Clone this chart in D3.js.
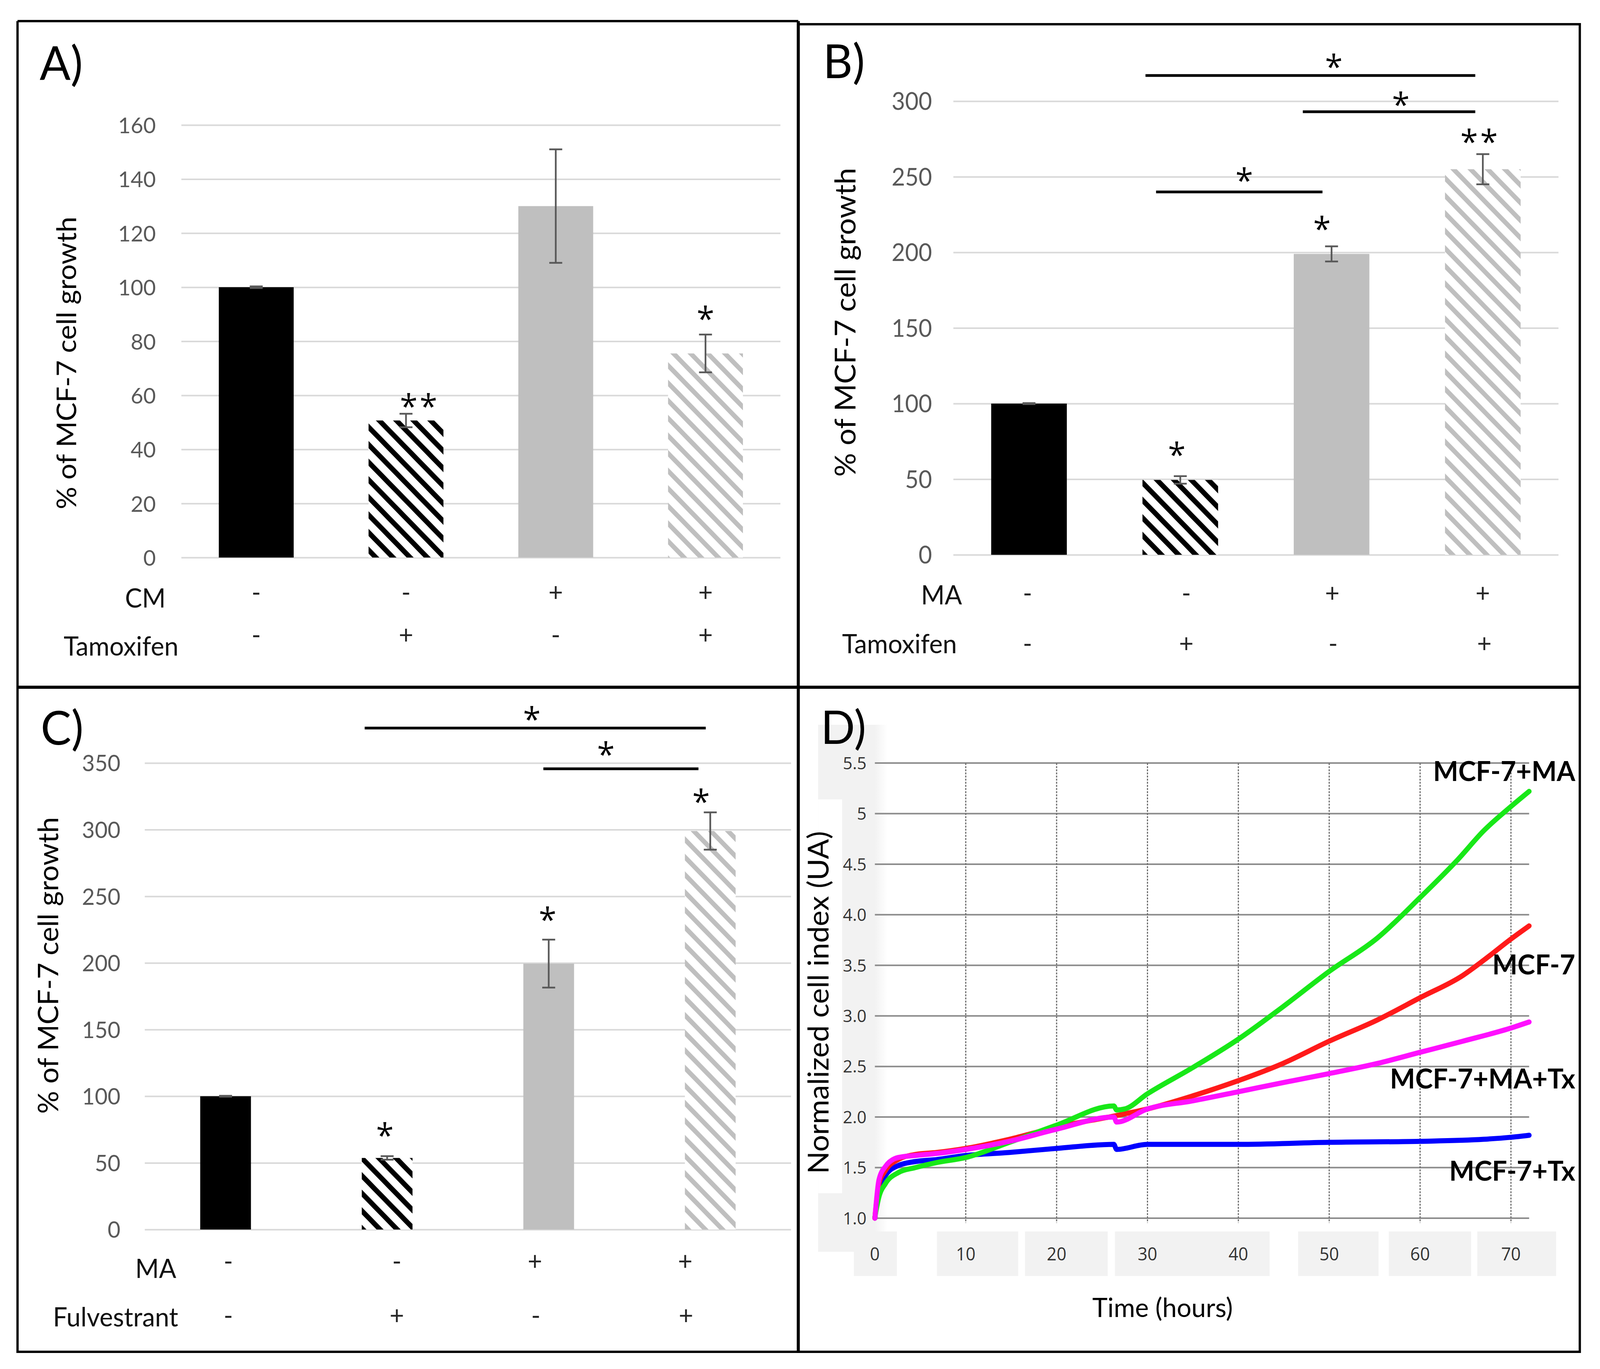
<!DOCTYPE html>
<html>
<head>
<meta charset="utf-8">
<script src="https://cdn.jsdelivr.net/npm/d3@7/dist/d3.min.js"></script>
<style>
  html, body { margin: 0; padding: 0; background: #fff; overflow: hidden; }
  svg { display: block; width: 100vw; height: 100vh; }
  svg text { font-family: Lato, "Open Sans", sans-serif; }
</style>
</head>
<body>
<svg id="fig" viewBox="0 0 4199 3504" preserveAspectRatio="none"></svg>
<script>
// ---- values ----
const groups = ["ctrl", "drug", "medium", "medium+drug"];

// A) conditioned medium +/- tamoxifen
const growthA = [100, 50.7, 130, 75.5];
const errorA = [0.3, 2.5, 21, 7];
const cmRow = ["-", "-", "+", "+"];
const tamoxifenRowA = ["-", "+", "-", "+"];
const ticksA = [0, 20, 40, 60, 80, 100, 120, 140, 160];

// B) MA +/- tamoxifen
const growthB = [100, 49.5, 199, 255];
const errorB = [0.3, 2.5, 5, 10];
const maRowB = ["-", "-", "+", "+"];
const tamoxifenRowB = ["-", "+", "-", "+"];
const ticksB = [0, 50, 100, 150, 200, 250, 300];

// C) MA +/- fulvestrant
const growthC = [100, 53.7, 199.5, 299];
const errorC = [0.3, 1.3, 18, 14];
const maRowC = ["-", "-", "+", "+"];
const fulvestrantRow = ["-", "+", "-", "+"];
const ticksC = [0, 50, 100, 150, 200, 250, 300, 350];

// significance marks: "at" in group units (0 = first bar), y in % units
const starsA = [{ at: 1.084, y: 58.7, n: 2 }, { at: 3, y: 91, n: 1 }];
const bracketsA = [];

const starsB = [
  { at: 0.977, y: 71, n: 1 }, { at: 1.937, y: 220.4, n: 1 }, { at: 2.975, y: 278, n: 2 },
  { at: 2.015, y: 327.6, n: 1 }, { at: 2.458, y: 302.6, n: 1 }, { at: 1.423, y: 252.5, n: 1 }
];
const bracketsB = [
  { from: 0.77, to: 2.95, y: 317 },
  { from: 1.81, to: 2.95, y: 293 },
  { from: 0.84, to: 1.94, y: 240 }
];

const starsC = [
  { at: 0.986, y: 76, n: 1 }, { at: 1.993, y: 238, n: 1 }, { at: 2.943, y: 326.4, n: 1 },
  { at: 1.896, y: 388.3, n: 1 }, { at: 2.354, y: 362, n: 1 }
];
const bracketsC = [
  { from: 0.861, to: 2.972, y: 376.2 },
  { from: 1.967, to: 2.927, y: 345.7 }
];

// D) real-time cell index (hours, normalized index)
const hoursMA = [0, 0.45, 1.15, 2.56, 4.45, 6.8, 10, 14.8, 20, 26.3, 26.6, 27.5, 30, 35, 40, 44.9, 50, 55.3, 60, 64.2, 67, 70, 72];
const indexMA = [1.01, 1.21, 1.34, 1.45, 1.50, 1.55, 1.60, 1.75, 1.92, 2.11, 2.07, 2.08, 2.23, 2.49, 2.77, 3.09, 3.44, 3.77, 4.17, 4.55, 4.83, 5.07, 5.22];

const hoursCtrl = [0, 0.45, 1.15, 2.56, 4.45, 6.8, 10, 14.8, 20, 26.3, 30, 35, 40, 44.9, 50, 55.3, 60, 64.7, 67, 70, 72];
const indexCtrl = [1.0, 1.34, 1.47, 1.58, 1.63, 1.65, 1.69, 1.78, 1.90, 2.01, 2.08, 2.21, 2.36, 2.53, 2.75, 2.96, 3.18, 3.40, 3.55, 3.76, 3.89];

const hoursMATx = [0, 0.45, 1.15, 2.56, 4.45, 6.8, 10, 14.8, 20, 26.3, 26.6, 30, 35, 40, 44.9, 50, 55.3, 60, 64.7, 70, 72];
const indexMATx = [1.0, 1.38, 1.51, 1.60, 1.62, 1.64, 1.68, 1.76, 1.88, 2.00, 1.95, 2.08, 2.16, 2.25, 2.34, 2.43, 2.53, 2.64, 2.75, 2.88, 2.94];

const hoursTx = [0, 0.45, 1.15, 2.56, 4.45, 6.8, 10, 14.8, 20, 26.3, 26.6, 30, 40, 50, 60, 67, 70, 72];
const indexTx = [1.0, 1.29, 1.42, 1.52, 1.56, 1.58, 1.62, 1.65, 1.69, 1.73, 1.68, 1.73, 1.73, 1.75, 1.76, 1.78, 1.80, 1.82];

const yTicksD = [1.0, 1.5, 2.0, 2.5, 3.0, 3.5, 4.0, 4.5, 5.0, 5.5];
const yTickLabelsD = ["1.0", "1.5", "2.0", "2.5", "3.0", "3.5", "4.0", "4.5", "5", "5.5"];
const xTicksD = [0, 10, 20, 30, 40, 50, 60, 70];
// grey label boxes under the time axis, in hours
const xLabelBoxes = [[-2.31, 2.43], [6.83, 15.77], [16.52, 25.62], [26.42, 43.44], [46.58, 55.43], [56.56, 65.62], [66.29, 74.97]];

// ---- drawing ----
const svg = d3.select("#fig");
svg.append("rect").attr("width", 4199).attr("height", 3504).attr("fill", "#fff");
const defs = svg.append("defs");

function hatch(id, color, w) {
  const p = defs.append("pattern")
    .attr("id", id)
    .attr("patternUnits", "userSpaceOnUse")
    .attr("width", 31.8)
    .attr("height", 31.8)
    .attr("patternTransform", "rotate(-45)");
  p.append("rect").attr("width", 31.8).attr("height", 31.8).attr("fill", "#fff");
  p.append("rect").attr("width", w).attr("height", 31.8).attr("fill", color);
}
hatch("hatchBlack", "#000", 13);
hatch("hatchGrey", "#bfbfbf", 12);

const fade = defs.append("linearGradient").attr("id", "fadeGrey");
fade.append("stop").attr("offset", "0").attr("stop-color", "#f2f2f2");
fade.append("stop").attr("offset", "1").attr("stop-color", "#fff");

const barFills = ["#000", "url(#hatchBlack)", "#bfbfbf", "url(#hatchGrey)"];
const STAR_FS = 84;

function barPanel(p) {
  const g = svg.append("g");
  const x = d3.scaleBand().domain(groups).range(p.xRange)
    .paddingInner(p.padInner).paddingOuter(p.padOuter);
  const y = d3.scaleLinear().domain([0, d3.max(p.ticks)]).range(p.yRange);
  const at = (k) => x(groups[0]) + x.bandwidth() / 2 + k * x.step();

  const grid = d3.axisLeft(y)
    .tickValues(p.ticks)
    .tickSize(-(p.xRange[1] - p.xRange[0]))
    .tickPadding(p.tickPad);
  const ga = g.append("g")
    .attr("transform", `translate(${p.xRange[0]},0)`)
    .call(grid)
    .attr("font-size", p.tickFont);
  ga.select(".domain").remove();
  ga.selectAll(".tick line").attr("stroke", "#d9d9d9").attr("stroke-width", 4);
  ga.selectAll(".tick text").attr("fill", "#595959").attr("dy", "0.36em");

  g.selectAll("rect.bar")
    .data(p.values)
    .join("rect")
    .attr("class", "bar")
    .attr("x", (d, i) => x(groups[i]))
    .attr("width", x.bandwidth())
    .attr("y", (d) => y(d))
    .attr("height", (d) => y(0) - y(d))
    .attr("fill", (d, i) => barFills[i]);

  const errs = p.values.map((v, i) => ({ v, e: p.errors[i], cx: at(i) }));
  const eg = g.selectAll("g.err").data(errs).join("g").attr("class", "err")
    .attr("stroke", "#595959").attr("stroke-width", 4.5);
  eg.append("line")
    .attr("x1", (d) => d.cx).attr("x2", (d) => d.cx)
    .attr("y1", (d) => y(d.v - d.e)).attr("y2", (d) => y(d.v + d.e));
  [-1, 1].forEach((s) => {
    eg.append("line")
      .attr("x1", (d) => d.cx - 17).attr("x2", (d) => d.cx + 17)
      .attr("y1", (d) => y(d.v + s * d.e)).attr("y2", (d) => y(d.v + s * d.e));
  });

  g.selectAll("line.bracket")
    .data(p.brackets)
    .join("line")
    .attr("class", "bracket")
    .attr("x1", (d) => at(d.from)).attr("x2", (d) => at(d.to))
    .attr("y1", (d) => y(d.y)).attr("y2", (d) => y(d.y))
    .attr("stroke", "#000").attr("stroke-width", 7);

  const glyphs = p.stars.flatMap((s) =>
    d3.range(s.n).map((j) => ({ x: at(s.at) + (j - (s.n - 1) / 2) * 52, y: y(s.y) }))
  );
  g.selectAll("text.star")
    .data(glyphs)
    .join("text")
    .attr("class", "star")
    .attr("x", (d) => d.x)
    .attr("y", (d) => d.y + STAR_FS * 0.58)
    .attr("text-anchor", "middle")
    .attr("font-size", STAR_FS)
    .style("font-family", "'Open Sans', sans-serif")
    .text("*");

  p.rows.forEach((row) => {
    g.append("text")
      .attr("x", row.labelX).attr("y", row.labelY)
      .attr("font-size", 67).attr("fill", "#111")
      .text(row.label);
    g.selectAll(null)
      .data(row.signs)
      .join("text")
      .attr("x", (d, i) => at(row.signAt[i]))
      .attr("y", row.signY)
      .attr("text-anchor", "middle")
      .attr("font-size", 66)
      .attr("fill", "#262626")
      .text((d) => d);
  });

  g.append("text")
    .attr("transform", `translate(${p.title.x},${p.title.y}) rotate(-90)`)
    .attr("text-anchor", "middle")
    .attr("font-size", p.title.fs)
    .text("% of MCF-7 cell growth");

  g.append("text")
    .attr("x", p.letter.x).attr("y", p.letter.y)
    .attr("font-size", 120)
    .text(p.letter.text);
}

barPanel({
  values: growthA, errors: errorA, ticks: ticksA,
  xRange: [476, 2048], yRange: [1427, 320], padInner: 0.5, padOuter: 0.25,
  tickPad: 67, tickFont: 57,
  brackets: bracketsA, stars: starsA,
  rows: [
    { label: "CM", labelX: 328, labelY: 1555, signs: cmRow, signAt: [0, 1, 2, 3], signY: 1539 },
    { label: "Tamoxifen", labelX: 167, labelY: 1678, signs: tamoxifenRowA, signAt: [0, 1, 2, 3], signY: 1648 }
  ],
  title: { x: 200, y: 929, fs: 72 },
  letter: { text: "A)", x: 104, y: 205 }
});

barPanel({
  values: growthB, errors: errorB, ticks: ticksB,
  xRange: [2502, 4090], yRange: [1420, 259], padInner: 0.5, padOuter: 0.25,
  tickPad: 56, tickFont: 61,
  brackets: bracketsB, stars: starsB,
  rows: [
    { label: "MA", labelX: 2417, labelY: 1547, signs: maRowB, signAt: [-0.01, 1.04, 2.005, 3], signY: 1541 },
    { label: "Tamoxifen", labelX: 2210, labelY: 1672, signs: tamoxifenRowB, signAt: [-0.01, 1.04, 2.01, 3.01], signY: 1670 }
  ],
  title: { x: 2245, y: 825, fs: 76 },
  letter: { text: "B)", x: 2160, y: 200 }
});

barPanel({
  values: growthC, errors: errorC, ticks: ticksC,
  xRange: [380, 2076], yRange: [3147, 1953], padInner: 0.686, padOuter: 0.343,
  tickPad: 64, tickFont: 58,
  brackets: bracketsC, stars: starsC,
  rows: [
    { label: "MA", labelX: 355, labelY: 3271, signs: maRowC, signAt: [0.017, 1.06, 1.915, 2.845], signY: 3251 },
    { label: "Fulvestrant", labelX: 139, labelY: 3395, signs: fulvestrantRow, signAt: [0.017, 1.06, 1.92, 2.85], signY: 3390 }
  ],
  title: { x: 153, y: 2471, fs: 73 },
  letter: { text: "C)", x: 107, y: 1906 }
});

function curvePanel() {
  const g = svg.append("g");
  const x = d3.scaleLinear().domain([0, 72]).range([2296, 4013]);
  const y = d3.scaleLinear().domain([1, 5.5]).range([3118, 1953]);

  // grey backdrop behind the tick labels (pasted software output)
  g.append("rect").attr("x", 2147).attr("y", 1855).attr("width", 150).attr("height", 1349).attr("fill", "#f2f2f2");
  g.append("rect").attr("x", 2147).attr("y", 2046).attr("width", 63).attr("height", 1008).attr("fill", "#fff");
  g.append("rect").attr("x", 2296).attr("y", 1855).attr("width", 34).attr("height", 1349).attr("fill", "url(#fadeGrey)");
  g.selectAll("rect.xbox")
    .data(xLabelBoxes)
    .join("rect")
    .attr("class", "xbox")
    .attr("x", (d) => x(d[0]))
    .attr("width", (d) => x(d[1]) - x(d[0]))
    .attr("y", 3152)
    .attr("height", 114)
    .attr("fill", "#f2f2f2");

  g.selectAll("line.hgrid")
    .data(yTicksD)
    .join("line")
    .attr("class", "hgrid")
    .attr("x1", x(0)).attr("x2", x(72))
    .attr("y1", (d) => y(d)).attr("y2", (d) => y(d))
    .attr("stroke", "#8c8c8c").attr("stroke-width", 4);

  g.selectAll("line.vgrid")
    .data(xTicksD.filter((d) => d > 0))
    .join("line")
    .attr("class", "vgrid")
    .attr("x1", (d) => x(d)).attr("x2", (d) => x(d))
    .attr("y1", y(5.5)).attr("y2", y(1) + 12)
    .attr("stroke", "#6e6e6e").attr("stroke-width", 3)
    .attr("stroke-dasharray", "5 3");

  g.selectAll("text.ylab")
    .data(yTicksD)
    .join("text")
    .attr("class", "ylab")
    .attr("x", 2274)
    .attr("y", (d) => y(d))
    .attr("dy", "0.36em")
    .attr("text-anchor", "end")
    .attr("font-size", 44)
    .attr("fill", "#333")
    .style("font-family", "'Open Sans', sans-serif")
    .text((d, i) => yTickLabelsD[i]);

  g.selectAll("text.xlab")
    .data(xTicksD)
    .join("text")
    .attr("class", "xlab")
    .attr("x", (d) => x(d))
    .attr("y", 3210)
    .attr("dy", "0.36em")
    .attr("text-anchor", "middle")
    .attr("font-size", 45)
    .attr("fill", "#333")
    .style("font-family", "'Open Sans', sans-serif")
    .text((d) => d);

  const series = [
    { name: "MCF-7+Tx", hours: hoursTx, index: indexTx, color: "#0000ff", labelY: 3022 },
    { name: "MCF-7", hours: hoursCtrl, index: indexCtrl, color: "#ff1a1a", labelY: 2494 },
    { name: "MCF-7+MA", hours: hoursMA, index: indexMA, color: "#18e818", labelY: 1999 },
    { name: "MCF-7+MA+Tx", hours: hoursMATx, index: indexMATx, color: "#ff10ff", labelY: 2786 }
  ];
  const line = d3.line()
    .x((d) => x(d[0]))
    .y((d) => y(d[1]))
    .curve(d3.curveMonotoneX);

  g.selectAll("path.curve")
    .data(series)
    .join("path")
    .attr("class", "curve")
    .attr("d", (s) => line(d3.zip(s.hours, s.index)))
    .attr("fill", "none")
    .attr("stroke", (s) => s.color)
    .attr("stroke-width", 13)
    .attr("stroke-linejoin", "round")
    .attr("stroke-linecap", "round");

  g.selectAll("text.series")
    .data(series)
    .join("text")
    .attr("class", "series")
    .attr("x", 4134)
    .attr("y", (s) => s.labelY)
    .attr("text-anchor", "end")
    .attr("font-size", 70)
    .attr("font-weight", 700)
    .text((s) => s.name);

  g.append("text")
    .attr("transform", "translate(2174,2566) rotate(-90)")
    .attr("text-anchor", "middle")
    .attr("font-size", 76)
    .text("Normalized cell index (UA)");

  g.append("text")
    .attr("x", 3051).attr("y", 3371)
    .attr("text-anchor", "middle")
    .attr("font-size", 68)
    .text("Time (hours)");

  g.append("text")
    .attr("x", 2154).attr("y", 1904)
    .attr("font-size", 118)
    .text("D)");
}
curvePanel();

// panel frames
const frame = svg.append("g").attr("stroke", "#000").attr("fill", "none");
frame.append("path").attr("stroke-width", 6)
  .attr("d", "M46,54 H2095 M2095,62 H4146 V3460 H46 V54");
frame.append("path").attr("stroke-width", 8)
  .attr("d", "M2095,54 V3460 M46,1759 H4146");
</script>
</body>
</html>
